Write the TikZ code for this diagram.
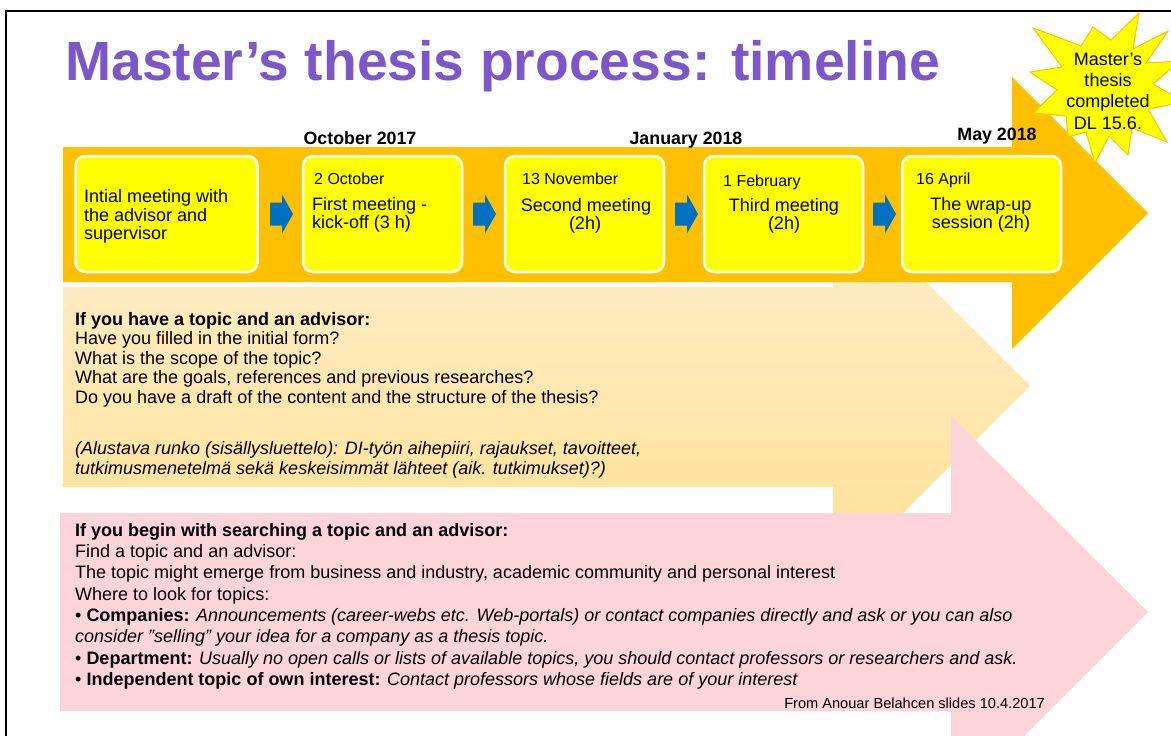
\documentclass[tikz,border=0pt]{standalone}
\usepackage{fontspec}
\setmainfont{Liberation Sans}
\usetikzlibrary{calc}
\definecolor{titlepurple}{RGB}{124,87,201}
\definecolor{orangeA}{RGB}{255,192,0}
\definecolor{boxyellow}{RGB}{255,255,0}
\definecolor{bluearr}{RGB}{0,112,192}
\definecolor{paleTop}{RGB}{255,239,208}
\definecolor{paleBot}{RGB}{255,224,146}
\definecolor{pinkA}{RGB}{251,213,218}
\newcommand\fsz[1]{\fontsize{#1pt}{#1pt}\selectfont}
\begin{document}
\begin{tikzpicture}[x=1pt,y=-1pt,
  tl/.style={inner sep=0pt, anchor=base west, font=\fsz{18}},
  tc/.style={inner sep=0pt, anchor=base, font=\fsz{18}},
  dl/.style={inner sep=0pt, anchor=base west, font=\fsz{16}},
  hdr/.style={inner sep=0pt, anchor=base, font=\bfseries\fsz{17.8}},
  ybox/.style={draw=white, line width=2.5pt, fill=boxyellow, rounded corners=10pt, inner sep=0pt, minimum height=116pt},
  pics/bluearrow/.style={code={
    \fill[bluearr] (0,-11.5) -- (12,-11.5) -- (12,-19.5) -- (23,0) -- (12,19.5) -- (12,11.5) -- (0,11.5) -- cycle;}}
]
\useasboundingbox (0,0) rectangle (1171,736);
\clip (0,0) rectangle (1171,736);
\fill[white] (0,0) rectangle (1171,736);
\draw[line width=2pt] (6,745) -- (6,11) -- (1180,11);

% pale yellow arrow
\shade[top color=paleTop, bottom color=paleBot]
  (63,287) -- (833,287) -- (833,189) -- (1030,386) -- (833,583) -- (833,487) -- (63,487) -- cycle;
% pink arrow
\fill[pinkA]
  (60,513) -- (951,513) -- (951,416) -- (1148,612) -- (951,809) -- (951,711) -- (60,711) -- cycle;
% orange arrow
\fill[orangeA]
  (63,147) -- (1012,147) -- (1012,77) -- (1148,213) -- (1012,349) -- (1012,282) -- (63,282) -- cycle;

% title
\node[inner sep=0pt, anchor=base west, font=\bfseries\fsz{55.3}, text=titlepurple] (title) at (65,80) {Master’s thesis process: timeline};

% star
\filldraw[fill=boxyellow, draw=orangeA, line width=1pt]
  (1139,13) -- (1111,40) -- (1093,27) -- (1081,46) -- (1033,28) -- (1062,67) -- (1030,72) -- (1057,90)
  -- (1033,113) -- (1066,116) -- (1068,137) -- (1086,132) -- (1095,163) -- (1109,136) -- (1128,155)
  -- (1132,128) -- (1167,142) -- (1148,109) -- (1184,102) -- (1153,84) -- (1180,61) -- (1146,63)
  -- (1168,31) -- (1133,49) -- cycle;
\node[tc] (s1) at (1108,65) {Master’s};
\node[tc] (s2) at (1108,86.3) {thesis};
\node[tc] (s3) at (1108,107.6) {completed};
\node[tc] (s4) at (1108,129) {DL 15.6.};

% month headers
\node[hdr] (m1) at (360,144) {October 2017};
\node[hdr] (m2) at (686,144) {January 2018};
\node[hdr] (m3) at (997,140) {May 2018};

% boxes
\node[ybox, minimum width=182pt] (b1) at (166.5,214) {};
\node[ybox, minimum width=159pt] (b2) at (382.5,214) {};
\node[ybox, minimum width=159pt] (b3) at (584.5,214) {};
\node[ybox, minimum width=159pt] (b4) at (783.5,214) {};
\node[ybox, minimum width=159pt] (b5) at (981.5,214) {};

% blue arrows
\pic at (270,214) {bluearrow};
\pic at (473,214) {bluearrow};
\pic at (675,214) {bluearrow};
\pic at (873,214) {bluearrow};

% box texts
\node[tl] (b1a) at (84,202.5) {Intial meeting with};
\node[tl] (b1b) at (84,221) {the advisor and};
\node[tl] (b1c) at (84,239.5) {supervisor};

\node[dl] (b2d) at (314,184.5) {2 October};
\node[tl] (b2a) at (312,210.5) {First meeting -};
\node[tl] (b2b) at (312,228.5) {kick-off (3 h)};

\node[dl] (b3d) at (522,184) {13 November};
\node[tc] (b3a) at (586,211.5) {Second meeting};
\node[tc] (b3b) at (585,229) {(2h)};

\node[dl] (b4d) at (723,186) {1 February};
\node[tc] (b4a) at (784,211.5) {Third meeting};
\node[tc] (b4b) at (784,229) {(2h)};

\node[dl] (b5d) at (916,184) {16 April};
\node[tc] (b5a) at (981,210.5) {The wrap-up};
\node[tc] (b5b) at (981,228.5) {session (2h)};

% pale yellow section
\node[tl, font=\bfseries\fsz{18}] (y1) at (75,325) {If you have a topic and an advisor:};
\node[tl] (y2) at (75,344.5) {Have you filled in the initial form?};
\node[tl] (y3) at (75,364) {What is the scope of the topic?};
\node[tl] (y4) at (75,383.5) {What are the goals, references and previous researches?};
\node[tl] (y5) at (75,403) {Do you have a draft of the content and the structure of the thesis?};
\node[tl, font=\itshape\fsz{18}] (y6) at (75,454.5) {(Alustava runko (sisällysluettelo): DI-työn aihepiiri, rajaukset, tavoitteet,};
\node[tl, font=\itshape\fsz{18}] (y7) at (75,474) {tutkimusmenetelmä sekä keskeisimmät lähteet (aik. tutkimukset)?)};

% pink section
\node[tl, font=\bfseries\fsz{18}] (p1) at (75,536) {If you begin with searching a topic and an advisor:};
\node[tl] (p2) at (75,557.5) {Find a topic and an advisor:};
\node[tl] (p3) at (75,578.5) {The topic might emerge from business and industry, academic community and personal interest};
\node[tl] (p4) at (75,600) {Where to look for topics:};
\node[tl] (p5) at (75,621) {• \textbf{Companies:} \textit{Announcements (career-webs etc. Web-portals) or contact companies directly and ask or you can also}};
\node[tl] (p6) at (75,642.5) {\textit{consider ”selling” your idea for a company as a thesis topic.}};
\node[tl] (p7) at (75,664) {• \textbf{Department:} \textit{Usually no open calls or lists of available topics, you should contact professors or researchers and ask.}};
\node[tl] (p8) at (75,685.5) {• \textbf{Independent topic of own interest:} \textit{Contact professors whose fields are of your interest}};
\node[inner sep=0pt, anchor=base east, font=\fsz{14.6}] (cr) at (1045,708) {From Anouar Belahcen slides 10.4.2017};
\end{tikzpicture}
\end{document}
